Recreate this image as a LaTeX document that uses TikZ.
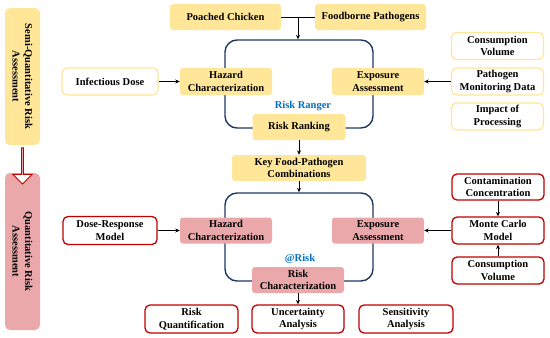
\documentclass[tikz,border=0pt]{standalone}
\usepackage{fontspec}
\setmainfont{Liberation Serif}
\usetikzlibrary{positioning,arrows.meta,shapes.arrows,calc}

\definecolor{semiyellow}{HTML}{FFE699}
\definecolor{quantpink}{HTML}{EAA8AB}
\definecolor{framered}{HTML}{C00000}
\definecolor{cyclenavy}{HTML}{1F3864}
\definecolor{toolblue}{HTML}{0070C0}

\begin{document}
\begin{tikzpicture}[
  x=1pt, y=-1pt,
  font=\fontsize{10.5}{12.5}\selectfont\bfseries,
  >={Stealth[length=4.5pt,width=4pt]},
  basebox/.style={rounded corners=3pt, align=center, inner sep=1pt,
                  minimum width=92pt, minimum height=27pt},
  ybox/.style={basebox, fill=semiyellow},
  pbox/.style={basebox, fill=quantpink},
  ywbox/.style={basebox, draw=semiyellow, line width=1.2pt, fill=white, rounded corners=5pt},
  rwbox/.style={basebox, draw=framered, line width=1.3pt, fill=white, rounded corners=5pt},
  cyclebox/.style={draw=cyclenavy, line width=1.4pt, rounded corners=12pt, inner sep=0pt,
                   minimum width=148pt},
  stage/.style={rounded corners=5pt, align=center, inner sep=0pt, minimum height=35pt, rotate=-90},
  tool/.style={text=toolblue, inner sep=1pt},
  arr/.style={->, line width=0.9pt},
]
\useasboundingbox (0,0) rectangle (550,338);

% ── stages on the left ──
\node[stage, fill=semiyellow, minimum width=137pt] (semi) at (22.5,76.5)
  {Semi-Quantitative Risk\\Assessment};
\node[stage, fill=quantpink, minimum width=157pt] (quant) at (22.5,251.5)
  {Quantitative Risk\\Assessment};
\node[single arrow, draw=framered, fill=white, line width=1pt, rotate=-90, inner sep=0pt,
      minimum width=19pt, minimum height=36pt, single arrow head extend=4.5pt] (shift)
  at (22.5,165.5) {};

% ── semi-quantitative part ──
\node[cyclebox, minimum height=88pt] (cyc1) at (299,84) {};
\node[ybox, minimum width=111pt, minimum height=26pt] (pc) at (225.5,17) {Poached Chicken};
\node[ybox, minimum width=111pt, minimum height=26pt] (fp) at (370.5,17) {Foodborne Pathogens};
\node[ybox] (hz1) at (226,81.5) {Hazard\\Characterization};
\node[ybox] (ex1) at (378,81.5) {Exposure\\Assessment};
\node[ywbox, minimum width=96pt] (dose) at (110,81.5) {Infectious Dose};
\node[ywbox] (cv1) at (497.5,46) {Consumption\\Volume};
\node[ywbox] (pmd) at (497.5,81.5) {Pathogen\\Monitoring Data};
\node[ywbox] (imp) at (497.5,116.5) {Impact of\\Processing};
\node[tool] (ranger) at (303,106) {Risk Ranger};
\node[ybox, minimum width=93pt, minimum height=26pt] (rank) at (299,127) {Risk Ranking};
\node[ybox, minimum width=134pt, minimum height=26pt] (key) at (299,168)
  {Key Food-Pathogen\\Combinations};

% ── quantitative part ──
\node[cyclebox, minimum height=88pt] (cyc2) at (299,237) {};
\node[pbox, minimum height=26pt] (hz2) at (226,230.5) {Hazard\\Characterization};
\node[pbox, minimum height=26pt] (ex2) at (378,230.5) {Exposure\\Assessment};
\node[rwbox, minimum width=94pt, minimum height=28pt] (drm) at (110,230.5) {Dose-Response\\Model};
\node[rwbox, minimum height=26pt] (cc) at (498,187) {Contamination\\Concentration};
\node[rwbox] (mc) at (498,230.5) {Monte Carlo\\Model};
\node[rwbox] (cv2) at (498,270.5) {Consumption\\Volume};
\node[tool] (atrisk) at (300,259) {@Risk};
\node[pbox, minimum height=26pt] (rc) at (298,280) {Risk\\Characterization};
\node[rwbox, minimum width=93pt, minimum height=28pt] (rq) at (191.5,319) {Risk\\Quantification};
\node[rwbox, minimum height=28pt] (ua) at (298,319) {Uncertainty\\Analysis};
\node[rwbox, minimum width=94pt, minimum height=28pt] (sa) at (406,319) {Sensitivity\\Analysis};

% ── arrows ──
\draw[line width=0.9pt] (pc.east) -- (fp.west);
\coordinate (join) at ($(pc.east)!0.5!(fp.west)$);
\draw[arr] (join) -- (join |- cyc1.north);
\draw[arr] (dose) -- (hz1);
\draw[arr] (pmd) -- (ex1);
\draw[arr] (rank) -- (key);
\draw[arr] (key) -- (key |- cyc2.north);
\draw[arr] (drm) -- (hz2);
\draw[arr] (mc) -- (ex2);
\draw[arr] (cc) -- (mc);
\draw[arr] (cv2) -- (mc);
\draw[arr] (rc) -- (ua);

\end{tikzpicture}
\end{document}
